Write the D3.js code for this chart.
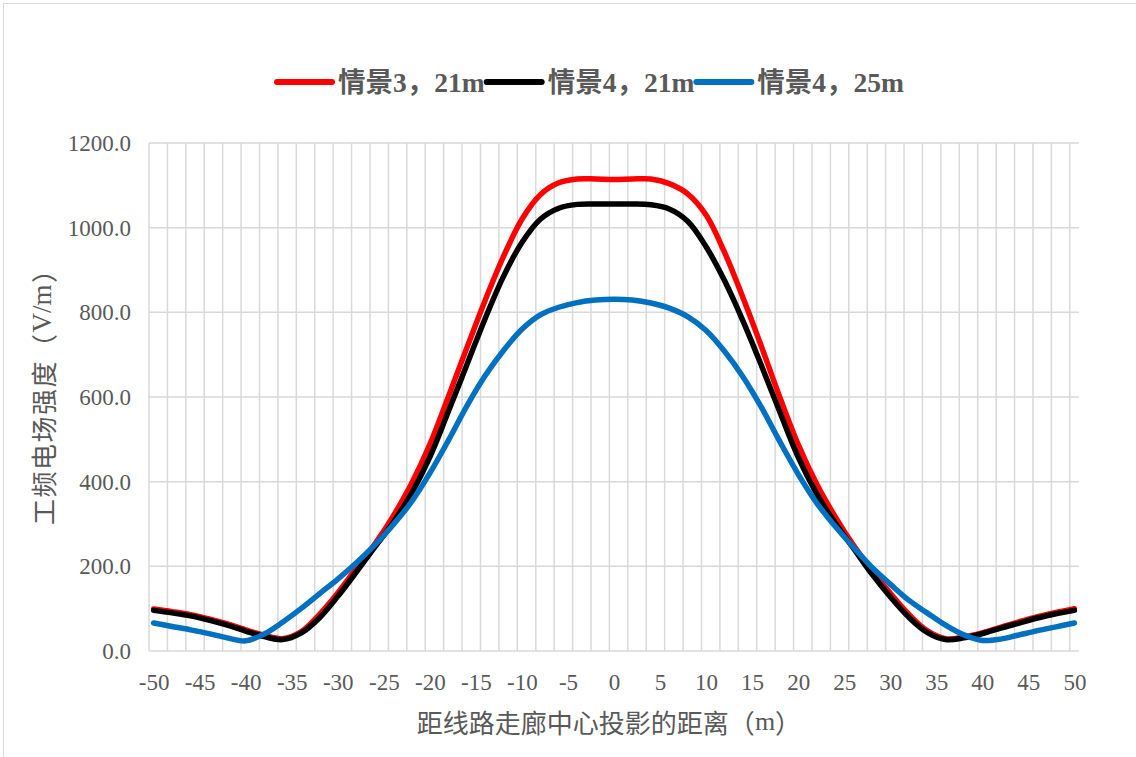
<!DOCTYPE html>
<html><head><meta charset="utf-8">
<script src="https://cdn.jsdelivr.net/npm/d3@7"></script>
<style>body{margin:0;background:#fff;} svg{display:block}</style>
</head><body>
<svg id="c" width="1136" height="757"></svg>
<script>
const xs = [-50,-48,-46,-44,-42,-40,-38,-36,-34,-32,-30,-28,-26,-24,-22,-20,-18,-16,-14,-12,-10,-8,-6,-4,-2,0,2,4,6,8,10,12,14,16,18,20,22,24,26,28,30,32,34,36,38,40,42,44,46,48,50];
const seriesNames = ["情景3，21m","情景4，21m","情景4，25m"];
const red = [99,93,86,76,64,50,37,29,45,86,137,195,252,318,395,488,600,715,828,932,1020,1078,1106,1115,1115,1114,1115,1115,1104,1080,1030,942,835,720,600,488,395,318,250,190,137,87,48,29,33,43,56,69,81,91,100];
const black = [96,90,83,73,61,47,34,27,42,78,129,186,245,303,372,458,565,675,785,885,965,1020,1046,1055,1056,1056,1056,1054,1044,1015,955,875,780,675,565,458,372,303,243,182,128,80,44,27,31,41,54,66,78,88,96];
const blue = [66,58,50,41,31,24,40,68,100,135,170,208,250,298,352,420,497,578,650,710,760,794,812,823,829,831,829,822,810,790,757,708,648,576,495,418,350,295,245,198,158,120,90,61,38,25,28,38,48,57,66];
const yTicks = [0,200,400,600,800,1000,1200];
const xTickLabels = [-50,-45,-40,-35,-30,-25,-20,-15,-10,-5,0,5,10,15,20,25,30,35,40,45,50];
const colors = ["#FF0000","#000000","#0070C0"];

const svg = d3.select("#c");
const plot = {left:149, right:1079, top:143, bottom:651};
const x = d3.scaleLinear().domain([-50.5,50.5]).range([plot.left, plot.right]);
const y = d3.scaleLinear().domain([0,1200]).range([plot.bottom, plot.top]);

// frame
svg.append("rect").attr("x",3.5).attr("y",3.5).attr("width",1140).attr("height",760)
  .attr("fill","#fff").attr("stroke","#d9d9d9").attr("stroke-width",1);

// gridlines
const g = svg.append("g");
g.selectAll("line.h").data(yTicks).join("line").attr("class","h")
  .attr("x1",plot.left).attr("x2",plot.right)
  .attr("y1",d=>y(d)).attr("y2",d=>y(d))
  .attr("stroke","#d9d9d9").attr("stroke-width",1.5);
const vGrid = d3.range(-50.5, 50, 2);
g.selectAll("line.v").data(vGrid).join("line").attr("class","v")
  .attr("x1",d=>x(d)).attr("x2",d=>x(d))
  .attr("y1",plot.top).attr("y2",plot.bottom)
  .attr("stroke","#d9d9d9").attr("stroke-width",1.5);

// axes labels
const yAxis = svg.append("g").attr("transform",`translate(${plot.left},0)`)
  .call(d3.axisLeft(y).tickValues(yTicks).tickFormat(d3.format(".1f")).tickSize(0).tickPadding(18));
const xAxis = svg.append("g").attr("transform",`translate(0,${plot.bottom})`)
  .call(d3.axisBottom(x).tickValues(xTickLabels).tickFormat(d=>String(d)).tickSize(0).tickPadding(23));
[yAxis,xAxis].forEach(a=>{
  a.select(".domain").remove();
  a.selectAll("text").attr("font-family","'Liberation Serif', serif").attr("font-size",23).attr("fill","#595959");
});

// titles
const xt = svg.append("text").attr("x",609).attr("y",721).attr("text-anchor","middle").attr("dominant-baseline","central")
  .attr("font-family","'Noto Sans CJK SC', sans-serif").attr("font-size",26).attr("fill","#595959");
xt.append("tspan").text("距线路走廊中心投影的距离（");
xt.append("tspan").attr("font-family","'Liberation Serif', serif").text("m");
xt.append("tspan").text("）");
const yt = svg.append("text").attr("transform","translate(42,391) rotate(-90)").attr("text-anchor","middle").attr("dominant-baseline","central")
  .attr("font-family","'Noto Sans CJK SC', sans-serif").attr("font-size",26).attr("fill","#595959");
yt.append("tspan").attr("letter-spacing",1.5).text("工频电场强度（");
yt.append("tspan").attr("font-family","'Liberation Serif', serif").attr("font-size",27).text("V/m");
yt.append("tspan").attr("dx",1.5).text("）");

// lines
const seriesVals = [red, black, blue];
const line = d3.line().x(d=>x(d[0])).y(d=>y(d[1])).curve(d3.curveCatmullRom.alpha(0.5));
seriesVals.forEach((vals,i)=>{
  svg.append("path").datum(xs.map((xv,j)=>[xv,vals[j]]))
    .attr("d",line).attr("fill","none").attr("stroke",colors[i])
    .attr("stroke-width",5.5).attr("stroke-linecap","round").attr("stroke-linejoin","round");
});

// legend
let lx = 277; const ly = 82;
seriesNames.forEach((name,i)=>{
  svg.append("line").attr("x1",lx).attr("x2",lx+55).attr("y1",ly).attr("y2",ly)
    .attr("stroke",colors[i]).attr("stroke-width",6).attr("stroke-linecap","round");
  const t = svg.append("text").attr("x",lx+61).attr("y",ly).attr("dominant-baseline","central")
    .attr("font-family","'Liberation Serif', 'Noto Sans CJK SC', serif").attr("font-weight","bold")
    .attr("font-size",27.5).attr("fill","#595959").text(name);
  lx = lx + 61 + t.node().getComputedTextLength() + 2;
});
</script>
</body></html>
